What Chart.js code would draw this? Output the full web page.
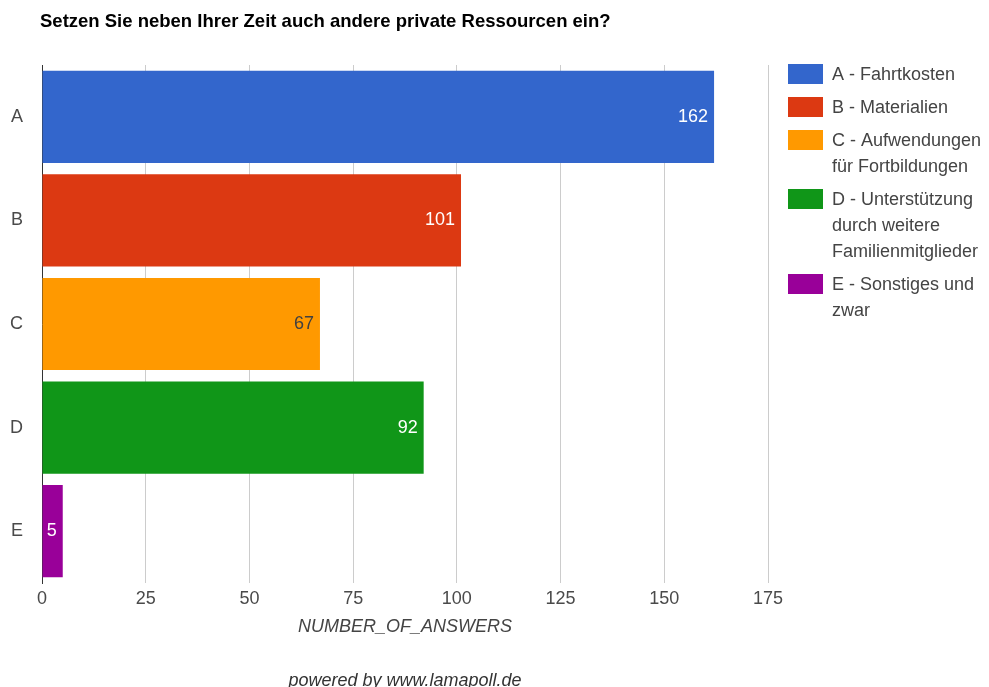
<!DOCTYPE html>
<html>
<head>
<meta charset="utf-8">
<script src="https://cdn.jsdelivr.net/npm/chart.js@4.4.0/dist/chart.umd.min.js"></script>
<style>
  html, body { margin: 0; padding: 0; background: #fff; }
</style>
</head>
<body>
<canvas id="myChart" width="989" height="687"></canvas>
<script>
// Antworten pro Kategorie
const categories = ['A', 'B', 'C', 'D', 'E'];
const answers = [162, 101, 67, 92, 5];
const seriesNames = [
  'A - Fahrtkosten',
  'B - Materialien',
  'C - Aufwendungen für Fortbildungen',
  'D - Unterstützung durch weitere Familienmitglieder',
  'E - Sonstiges und zwar'
];
const xTicks = [0, 25, 50, 75, 100, 125, 150, 175];
const chartTitle = 'Setzen Sie neben Ihrer Zeit auch andere private Ressourcen ein?';
const axisTitle = 'NUMBER_OF_ANSWERS';
const footerText = 'powered by www.lamapoll.de';

const colors = ['#3366cc', '#dc3912', '#ff9900', '#109618', '#990099'];
const valueColors = ['#ffffff', '#ffffff', '#404040', '#ffffff', '#ffffff'];
const FONT = 'Arial, "Liberation Sans", sans-serif';

// Zeilenumbruch fuer die Legende
function wrapText(ctx, text, maxWidth) {
  var words = text.split(' ');
  var lines = [];
  var line = '';
  words.forEach(function (w) {
    var test = line ? line + ' ' + w : w;
    if (line && ctx.measureText(test).width > maxWidth) {
      lines.push(line);
      line = w;
    } else {
      line = test;
    }
  });
  lines.push(line);
  return lines;
}

// Werte in den Balken, Titel, Legende, Fusszeile
const extras = {
  id: 'extras',
  afterDatasetsDraw(chart) {
    const ctx = chart.ctx;
    const meta = chart.getDatasetMeta(0);
    ctx.save();
    ctx.font = '18px ' + FONT;
    ctx.textAlign = 'right';
    ctx.textBaseline = 'middle';
    meta.data.forEach(function (bar, i) {
      ctx.fillStyle = valueColors[i];
      ctx.fillText(String(answers[i]), bar.x - 6, bar.y);
    });
    ctx.restore();
  },
  afterDraw(chart) {
    const ctx = chart.ctx;
    ctx.save();

    // Titel
    ctx.font = 'bold 18.5px ' + FONT;
    ctx.fillStyle = '#000';
    ctx.textAlign = 'left';
    ctx.textBaseline = 'middle';
    ctx.fillText(chartTitle, 40, 22);

    // Legende
    ctx.font = '18px ' + FONT;
    var y = 74;
    seriesNames.forEach(function (name, i) {
      var lines = wrapText(ctx, name, 989 - 832);
      ctx.fillStyle = colors[i];
      ctx.fillRect(788, y - 10, 35, 20);
      ctx.fillStyle = '#444';
      lines.forEach(function (l, j) {
        ctx.fillText(l, 832, y + j * 26 + 1);
      });
      y += (lines.length - 1) * 26 + 33;
    });

    // Fusszeile
    ctx.font = 'italic 18px ' + FONT;
    ctx.fillStyle = '#333';
    ctx.textAlign = 'center';
    ctx.textBaseline = 'alphabetic';
    ctx.fillText(footerText, (chart.chartArea.left + chart.chartArea.right) / 2, 686);
    ctx.restore();
  }
};

const ctx = document.getElementById('myChart').getContext('2d');
const myChart = new Chart(ctx, {
  type: 'bar',
  data: {
    labels: categories,
    datasets: [{
      data: answers,
      backgroundColor: colors,
      borderWidth: 0,
      categoryPercentage: 1,
      barPercentage: 0.89
    }]
  },
  options: {
    indexAxis: 'y',
    responsive: false,
    animation: false,
    layout: {
      padding: {top: 65, left: 0, right: 221, bottom: 0}
    },
    plugins: {
      legend: {display: false},
      tooltip: {enabled: false}
    },
    scales: {
      x: {
        min: xTicks[0],
        max: xTicks[xTicks.length - 1],
        ticks: {
          stepSize: xTicks[1] - xTicks[0],
          color: '#4a4a4a',
          padding: 5,
          maxRotation: 0,
          font: {family: FONT, size: 18}
        },
        grid: {color: '#cccccc', drawTicks: false},
        border: {display: false},
        title: {
          display: true,
          text: axisTitle,
          color: '#444',
          padding: {top: 0, bottom: 49},
          font: {family: FONT, size: 18, style: 'italic'}
        },
        afterFit: function (scale) {
          scale.height = 104;
        }
      },
      y: {
        ticks: {
          color: '#4a4a4a',
          padding: 19,
          font: {family: FONT, size: 18}
        },
        grid: {display: false, drawTicks: false},
        border: {display: true, color: '#333333', width: 1},
        afterFit: function (scale) {
          scale.width = 42;
        }
      }
    }
  },
  plugins: [extras]
});
</script>
</body>
</html>
